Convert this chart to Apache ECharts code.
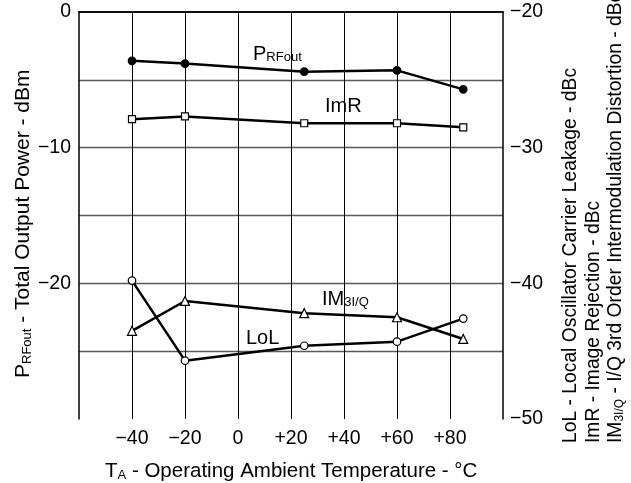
<!DOCTYPE html>
<html>
<head>
<meta charset="utf-8">
<script src="https://cdn.jsdelivr.net/npm/echarts@6/dist/echarts.min.js"></script>
<style>
html, body { margin: 0; padding: 0; background: #fff; }
#chart { width: 631px; height: 483px; }
</style>
</head>
<body>
<div id="chart"></div>
<script>
// temperatures (degC)
var temps = [-40, -20, 25, 60, 85];
// left axis, dBm
var prfout = [-3.6, -3.8, -4.4, -4.3, -5.7];
// right axis, dBc
var imr = [-27.9, -27.7, -28.2, -28.2, -28.5];
var lol = [-39.8, -45.7, -44.6, -44.3, -42.6];
var im3 = [-43.5, -41.3, -42.2, -42.5, -44.1];

var FONT = "'Liberation Sans', Arial, sans-serif";
var MINUS = '\u2212';

function pairs(vals) {
	return temps.map(function (t, i) { return [t, vals[i]]; });
}
function num(v) {
	if (v > 0) return '+' + v;
	if (v < 0) return MINUS + (-v);
	return '0';
}
// rich styles: a = normal text, b = subscript
function richSet(size, subSize) {
	return {
		a: { fontSize: size, fontFamily: FONT, color: '#000', verticalAlign: 'bottom' },
		b: { fontSize: subSize, fontFamily: FONT, color: '#000', verticalAlign: 'bottom' }
	};
}

function lineSeries(name, vals, yIdx, symbol, size, fill) {
	return {
		name: name,
		type: 'line',
		yAxisIndex: yIdx,
		data: pairs(vals),
		symbol: symbol,
		symbolSize: size,
		showAllSymbol: true,
		lineStyle: { color: '#000', width: 2.5 },
		itemStyle: { color: fill, borderColor: '#000', borderWidth: 1.2 },
		z: 5
	};
}

var chart = echarts.init(document.getElementById('chart'));
var option = {
	animation: false,
	backgroundColor: '#fff',
	grid: { left: 79, right: 128, top: 12, bottom: 64 },
	xAxis: [{
		type: 'value',
		min: -60, max: 100, interval: 20,
		axisLine: { show: true, lineStyle: { color: '#000', width: 1.5 } },
		axisTick: { show: false },
		axisLabel: {
			fontSize: 19.5, fontFamily: FONT, color: '#000', margin: 10,
			formatter: function (v) { return (v === -60 || v === 100) ? '' : num(v); }
		},
		splitLine: { show: true, showMinLine: false, showMaxLine: false, lineStyle: { color: '#000', width: 1 } }
	}, {
		type: 'value', position: 'top',
		min: -60, max: 100,
		axisLine: { show: true, onZero: false, lineStyle: { color: '#000', width: 1.5 } },
		axisTick: { show: false }, axisLabel: { show: false }, splitLine: { show: false }
	}],
	yAxis: [{
		type: 'value',
		min: -30, max: 0, interval: 5,
		axisLine: { show: true, onZero: false, lineStyle: { color: '#000', width: 1.5 } },
		axisTick: { show: false },
		axisLabel: {
			fontSize: 19.5, fontFamily: FONT, color: '#000', margin: 8,
			formatter: function (v) { return (v % 10 === 0 && v !== -30) ? num(v) : ''; }
		},
		splitLine: { show: true, showMinLine: false, showMaxLine: false, lineStyle: { color: '#5a5a5a', width: 1.3 } }
	}, {
		type: 'value', position: 'right',
		min: -50, max: -20, interval: 10,
		axisLine: { show: true, onZero: false, lineStyle: { color: '#000', width: 1.5 } },
		axisTick: { show: false },
		axisLabel: { fontSize: 19.5, fontFamily: FONT, color: '#000', margin: 7, formatter: num },
		splitLine: { show: false }
	}],
	series: [
		lineSeries('PRFout', prfout, 0, 'circle', 7.5, '#000'),
		lineSeries('ImR', imr, 1, 'rect', 7, '#fff'),
		lineSeries('LoL', lol, 1, 'circle', 7.5, '#fff'),
		lineSeries('IM3I/Q', im3, 1, 'triangle', 9, '#fff')
	],
	graphic: [
		{ type: 'text', x: 253, y: 64, style: { text: '{a|P}{b|RFout}', rich: richSet(20, 13), align: 'left', verticalAlign: 'bottom' } },
		{ type: 'text', x: 325, y: 116, style: { text: '{a|ImR}', rich: richSet(20, 13), align: 'left', verticalAlign: 'bottom' } },
		{ type: 'text', x: 322, y: 309, style: { text: '{a|IM}{b|3I/Q}', rich: richSet(20, 13), align: 'left', verticalAlign: 'bottom' } },
		{ type: 'text', x: 246, y: 348, style: { text: '{a|LoL}', rich: richSet(20, 13), align: 'left', verticalAlign: 'bottom' } },
		// x axis title
		{ type: 'text', x: 105, y: 482, style: { text: '{a|T}{b|A}{a| - Operating Ambient Temperature - \u00b0C}', rich: richSet(20.5, 13), align: 'left', verticalAlign: 'bottom' } },
		// left axis title
		{ type: 'text', x: 23, y: 378, rotation: Math.PI / 2, style: { text: '{a|P}{b|RFout}{a| - Total Output Power - dBm}', rich: richSet(21, 13), align: 'left', verticalAlign: 'middle' } },
		// right axis titles
		{ type: 'text', x: 571, y: 443, rotation: Math.PI / 2, style: { text: '{a|LoL - Local Oscillator Carrier Leakage - dBc}', rich: richSet(19.3, 12), align: 'left', verticalAlign: 'middle' } },
		{ type: 'text', x: 594, y: 443, rotation: Math.PI / 2, style: { text: '{a|ImR - Image Rejection - dBc}', rich: richSet(19.3, 12), align: 'left', verticalAlign: 'middle' } },
		{ type: 'text', x: 616, y: 443, rotation: Math.PI / 2, style: { text: '{a|IM}{b|3I/Q}{a| - I/Q 3rd Order Intermodulation Distortion - dBc}', rich: richSet(19.3, 12), align: 'left', verticalAlign: 'middle' } }
	]
};
chart.setOption(option);
</script>
</body>
</html>
